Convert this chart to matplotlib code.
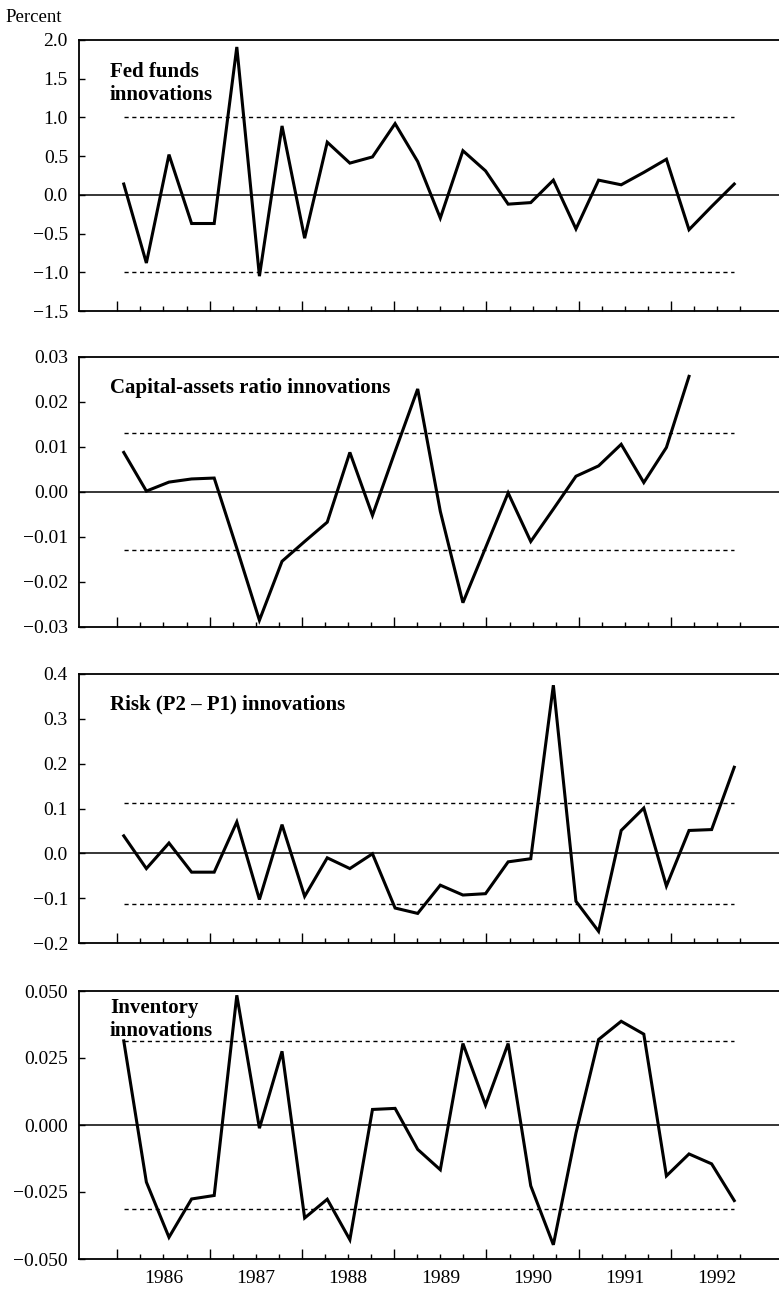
import numpy as np
import matplotlib
matplotlib.use("Agg")
import matplotlib.pyplot as plt

plt.rcParams['font.family'] = ['Liberation Serif', 'DejaVu Serif']

# quarterly innovations, 1986Q1 onward
fed_funds = [0.14, -0.88, 0.52, -0.37, -0.37, 1.91, -1.05, 0.89, -0.56, 0.68,
             0.41, 0.49, 0.92, 0.43, -0.30, 0.57, 0.31, -0.12, -0.10, 0.19,
             -0.44, 0.19, 0.13, 0.29, 0.46, -0.45, -0.15, 0.14]
capital_assets = [0.0088, 0.0002, 0.0022, 0.0029, 0.0031, -0.0125, -0.0285,
                  -0.0154, -0.0110, -0.0067, 0.0088, -0.0052, 0.0090, 0.0229,
                  -0.0043, -0.0246, -0.0124, -0.0002, -0.0110, -0.0038, 0.0035,
                  0.0058, 0.0106, 0.0021, 0.0099, 0.0257]
risk = [0.039, -0.034, 0.023, -0.042, -0.042, 0.070, -0.103, 0.064, -0.096,
        -0.010, -0.034, -0.001, -0.122, -0.134, -0.071, -0.093, -0.090, -0.019,
        -0.012, 0.375, -0.107, -0.174, 0.051, 0.101, -0.073, 0.051, 0.053, 0.192]
inventory = [0.0314, -0.0213, -0.0419, -0.0276, -0.0263, 0.0484, -0.0012,
             0.0275, -0.0347, -0.0277, -0.0428, 0.0058, 0.0062, -0.0091,
             -0.0167, 0.0304, 0.0074, 0.0304, -0.0227, -0.0447, -0.0030,
             0.0319, 0.0387, 0.0339, -0.0190, -0.0108, -0.0145, -0.0282]

# two-standard-error bands
bands = [1.0, 0.013, 0.113, 0.0312]

titles = ["Fed funds\ninnovations", "Capital-assets ratio innovations",
          "Risk (P2 \u2013 P1) innovations", "Inventory\ninnovations"]
yticks = [np.arange(-1.5, 2.01, 0.5), np.arange(-0.03, 0.031, 0.01),
          np.arange(-0.2, 0.41, 0.1), np.arange(-0.05, 0.051, 0.025)]
yfmt = ["%.1f", "%.2f", "%.1f", "%.3f"]
years = list(range(1986, 1993))

series = [fed_funds, capital_assets, risk, inventory]
quarter_x = 1986.07 + 0.245 * np.arange(28)

# panel extents in pixels (top, bottom) and title offsets
panel_px = [(40, 311), (357, 627), (674, 943), (991, 1259)]
title_y = [0.92, 0.922, 0.922, 0.975]

W, H = 779, 1290
fig = plt.figure(figsize=(W / 100, H / 100), dpi=100)

for k in range(4):
    top, bot = panel_px[k]
    ax = fig.add_axes([79 / W, 1 - bot / H, 1 - 79 / W, (bot - top) / H])
    y = series[k]
    x = quarter_x[:len(y)]
    ax.plot(x, y, color='black', lw=2.2, solid_joinstyle='miter', zorder=3)
    ax.axhline(0, color='black', lw=1.1, zorder=2)
    for b in (bands[k], -bands[k]):
        ax.hlines(b, quarter_x[0], quarter_x[-1], colors='black', lw=1.0,
                  linestyles=(0, (3, 2.6)), zorder=2)

    ax.set_xlim(1985.585, 1993.17)
    ax.set_ylim(yticks[k][0], yticks[k][-1])
    ax.set_yticks(yticks[k])
    ax.set_yticklabels([(yfmt[k] % v).replace('-', '\u2212') for v in yticks[k]])
    ax.set_xticks(years)
    ax.set_xticks([yr + q / 4 for yr in years for q in (1, 2, 3)], minor=True)
    ax.set_xticklabels([])
    ax.tick_params(axis='x', which='major', direction='in', length=7, width=1.0)
    ax.tick_params(axis='x', which='minor', direction='in', length=3.5, width=1.0)
    ax.tick_params(axis='y', direction='in', length=4, width=1.0, pad=8,
                   labelsize=14)
    ax.spines['right'].set_visible(False)
    for s in ('top', 'bottom', 'left'):
        ax.spines[s].set_linewidth(1.3)

    ax.text(0.044, title_y[k], titles[k], transform=ax.transAxes, ha='left',
            va='top', fontsize=15, fontweight='bold', linespacing=1.2)

    if k == 3:
        for yr in years:
            ax.text(yr + 0.5, -0.071, str(yr), transform=ax.get_xaxis_transform(),
                    ha='center', va='center', fontsize=14)

fig.text(5 / W, 1 - 17 / H, "Percent", ha='left', va='center', fontsize=13.5)

fig.savefig("out.png", dpi=100)
